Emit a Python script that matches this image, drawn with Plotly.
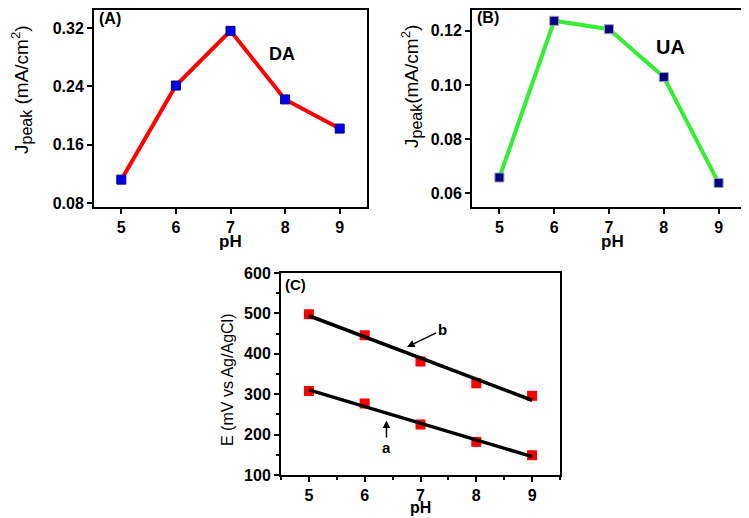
import numpy as np
import plotly.graph_objects as go

ph = [5, 6, 7, 8, 9]
da_peak = [0.112, 0.241, 0.316, 0.222, 0.182]
ua_peak = [0.0658, 0.1237, 0.1206, 0.1029, 0.0638]
e_b = [498, 446, 381, 327, 296]
e_a = [308, 277, 225, 182, 149]

FONT = "Liberation Sans, Arial, sans-serif"

# the page body has an 8px margin, so the figure is a bit smaller than the window
W, H, OFF = 741, 510, 8


def px(x):
    return (x - OFF) / W


def py(y):
    return 1 - (y - OFF) / H


fig = go.Figure()

# (A) DA
fig.add_trace(go.Scatter(x=ph, y=da_peak, mode='lines+markers', xaxis='x', yaxis='y',
                         line=dict(color='#ff0000', width=4),
                         marker=dict(symbol='square', size=9, color='#0000ee',
                                     line=dict(color='#000080', width=1))))
# (B) UA
fig.add_trace(go.Scatter(x=ph, y=ua_peak, mode='lines+markers', xaxis='x2', yaxis='y2',
                         line=dict(color='#33ee33', width=4),
                         marker=dict(symbol='square', size=9, color='#000080',
                                     line=dict(color='#9999bb', width=1))))

# (C) peak potentials with linear fits
for vals in (e_b, e_a):
    k, b = np.polyfit(ph, vals, 1)
    fig.add_trace(go.Scatter(x=ph, y=vals, mode='markers', xaxis='x3', yaxis='y3',
                             marker=dict(symbol='square', size=10, color='#ff0000')))
    fig.add_trace(go.Scatter(x=[ph[0], ph[-1]], y=[k * ph[0] + b, k * ph[-1] + b], mode='lines',
                             xaxis='x3', yaxis='y3', line=dict(color='black', width=3.5)))

axis_common = dict(showline=True, linecolor='black', linewidth=2, mirror=True,
                   ticks='outside', ticklen=5, tickwidth=2, tickcolor='black',
                   showgrid=False, zeroline=False, automargin=False,
                   tickfont=dict(family=FONT, size=16, color='black', weight='bold'))

fig.update_layout(
    width=W, height=H,
    margin=dict(l=0, r=0, t=0, b=0),
    paper_bgcolor='white', plot_bgcolor='white',
    showlegend=False,
    font=dict(family=FONT, color='black'),
    xaxis=dict(domain=[px(94), px(367)], anchor='y', range=[4.5, 9.5], dtick=1, **axis_common),
    yaxis=dict(domain=[py(207), py(10)], anchor='x', range=[0.0745, 0.3446],
               tickvals=[0.08, 0.16, 0.24, 0.32], ticktext=['0.08', '0.16', '0.24', '0.32'],
               **axis_common),
    xaxis2=dict(domain=[px(472), px(746)], anchor='y2', range=[4.5, 9.5], dtick=1, **axis_common),
    yaxis2=dict(domain=[py(207), py(10)], anchor='x2', range=[0.0549, 0.1277],
                tickvals=[0.06, 0.08, 0.10, 0.12], ticktext=['0.06', '0.08', '0.10', '0.12'],
                **axis_common),
    xaxis3=dict(domain=[px(281), px(560)], anchor='y3', range=[4.5, 9.5], dtick=1,
                minor=dict(dtick=0.5, ticks='outside', ticklen=3, tickwidth=1.5, tickcolor='black'),
                **axis_common),
    yaxis3=dict(domain=[py(475), py(273)], anchor='x3', range=[100, 600], dtick=100,
                minor=dict(dtick=50, ticks='outside', ticklen=3, tickwidth=1.5, tickcolor='black'),
                **axis_common),
)

peak = "J<sub><span style='font-size:16px'>peak</span></sub>"
bold = dict(family=FONT, color='black', weight='bold')
annotations = [
    # panel labels
    dict(x=px(97), y=py(18), text='(A)', font=dict(size=16, **bold)),
    dict(x=px(475), y=py(17), text='(B)', font=dict(size=16, **bold)),
    dict(x=px(283), y=py(284), text='(C)', font=dict(size=15, **bold)),
    dict(x=px(282), y=py(54), text='DA', font=dict(size=18, **bold)),
    dict(x=px(670), y=py(47), text='UA', font=dict(size=20, **bold)),
    # x titles
    dict(x=px(230), y=py(242), text='pH', font=dict(size=17, **bold)),
    dict(x=px(612), y=py(242), text='pH', font=dict(size=17, **bold)),
    dict(x=px(420), y=py(507), text='pH', font=dict(size=16, **bold)),
    # y titles
    dict(x=px(22), y=py(90), text=peak + ' (mA/cm<sup>2</sup>)', textangle=-90,
         font=dict(family=FONT, size=19, color='black')),
    dict(x=px(411), y=py(87), text=peak + '(mA/cm<sup>2</sup>)', textangle=-90,
         font=dict(family=FONT, size=19, color='black')),
    dict(x=px(227), y=py(380), text='E (mV vs Ag/AgCl)', textangle=-90,
         font=dict(family=FONT, size=16, color='black')),
]
for a in annotations:
    a.setdefault('xanchor', 'left' if a['text'].startswith('(') else 'center')
    a.setdefault('yanchor', 'middle')
    fig.add_annotation(xref='paper', yref='paper', showarrow=False, **a)

# arrows in panel C
fig.add_annotation(x=6.76, y=417, xref='x3', yref='y3', text='b', showarrow=True,
                   ax=35, ay=-17, arrowhead=2, arrowsize=1, arrowwidth=1.5, arrowcolor='black',
                   font=dict(size=15, **bold))
fig.add_annotation(x=6.39, y=235, xref='x3', yref='y3', text='a', showarrow=True,
                   ax=0, ay=27, arrowhead=2, arrowsize=1, arrowwidth=1.5, arrowcolor='black',
                   font=dict(size=15, **bold))

fig.write_html("out.html")
